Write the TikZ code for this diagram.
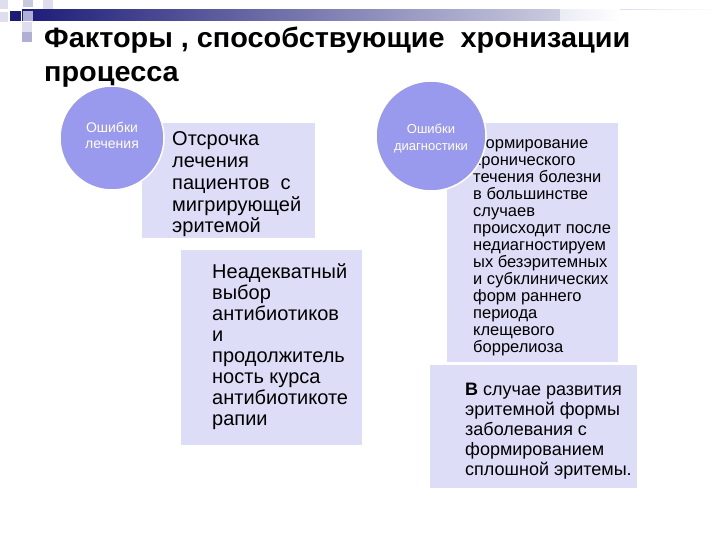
\documentclass[tikz,border=0pt]{standalone}
\usepackage{fontspec}
\setmainfont{Liberation Sans}
\newfontfamily\titlefont[FakeStretch=1.03]{Liberation Sans}
\definecolor{navy}{RGB}{28,28,120}
\definecolor{boxfill}{RGB}{221,221,247}
\definecolor{circfill}{RGB}{153,153,238}
\definecolor{sqlight}{RGB}{222,222,238}
\definecolor{sqmid}{RGB}{176,176,214}
\definecolor{sqgray}{RGB}{200,200,222}
\tikzset{
  panel/.style={fill=boxfill, draw=none},
  bubble/.style={circle, fill=circfill, draw=white, line width=1.5pt, inner sep=0pt},
  bubtext/.style={text=white, align=center, anchor=base},
  bodytext/.style={anchor=base west, inner sep=0pt, align=left},
}
\begin{document}
\begin{tikzpicture}[x=1pt,y=-1pt]
\useasboundingbox (0,0) rectangle (720,540);
\fill[white] (0,0) rectangle (720,540);
% decoration
\shade[left color=navy, right color=white] (22,10) rectangle (720,21);
\fill[white] (620,10) rectangle (720,21);
\shade[left color=sqlight!60!white, right color=white] (560,10) rectangle (620,21);
\fill[sqlight] (0,0) rectangle (8,9);
\fill[sqgray] (23,0) rectangle (33,7);
\fill[sqlight] (43,0) rectangle (53,9);
\fill[sqlight] (0,12) rectangle (8,22);
\fill[navy] (10,11) rectangle (21,21);
\fill[sqmid] (23,11) rectangle (33,21);
\fill[sqlight] (22,22) rectangle (32,32);
\fill[sqmid] (22,32) rectangle (32,42);
% title (base anchor = baseline of last line)
\node[bodytext, font=\titlefont\bfseries\fontsize{28}{34}\selectfont] (title) at (44,82)
  {Факторы , способствующие\ \ хронизации\\процесса};
% panels
\fill[panel] (142,123) rectangle (315,238);
\fill[panel] (181,250) rectangle (362,445);
\fill[panel] (447,123) rectangle (618,362);
\fill[panel] (430,365) rectangle (637,488);
\node[bodytext, font=\fontsize{20}{21.75}\selectfont] (t1) at (172,233)
  {Отсрочка\\лечения\\пациентов\ \ с\\мигрирующей\\эритемой};
\node[bodytext, font=\fontsize{20}{21}\selectfont] (t2) at (212,425)
  {Неадекватный\\выбор\\антибиотиков\\и\\продолжитель\\ность курса\\антибиотикоте\\рапии};
\node[bodytext, font=\fontsize{16.5}{17}\selectfont] (t3) at (473,352)
  {Формирование\\хронического\\течения болезни\\в большинстве\\случаев\\происходит после\\недиагностируем\\ых безэритемных\\и субклинических\\форм раннего\\периода\\клещевого\\боррелиоза};
\node[bodytext, font=\fontsize{18}{20}\selectfont] (t4) at (465,475)
  {\textbf{В} случае развития\\эритемной формы\\заболевания с\\формированием\\сплошной эритемы.};
% circles
\node[bubble, minimum size=104pt] (c1) at (112,138) {};
\node[bubble, minimum size=110pt] (c2) at (431,136) {};
\node[bubtext, font=\fontsize{14}{16}\selectfont] (c1t) at (112,149) {Ошибки\\лечения};
\node[bubtext, font=\fontsize{13}{17}\selectfont] (c2t) at (431,151) {Ошибки\\диагностики};
\end{tikzpicture}
\end{document}
